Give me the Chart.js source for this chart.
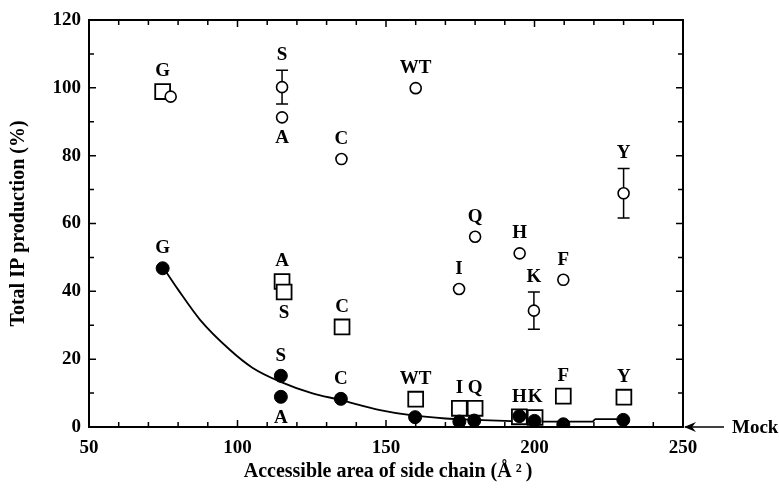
<!DOCTYPE html>
<html lang="en">
<head>
<meta charset="UTF-8">
<title>Total IP production vs accessible area of side chain</title>
<script src="https://cdn.jsdelivr.net/npm/chart.js"></script>
<style>
  html, body { margin: 0; padding: 0; background: #fff; }
  #wrap { width: 779px; height: 489px; }
</style>
</head>
<body>
<div id="wrap"><canvas id="ipChart" width="779" height="489"></canvas></div>
<script>
// open circles
const circleX = [77.5, 115, 115, 160, 135, 180, 195, 174.6, 199.8, 209.7, 230];
const circleY = [97.4, 100.2, 91.3, 99.9, 79, 56.1, 51.2, 40.7, 34.3, 43.4, 68.9];
const circleErr = [0, 5, 0, 0, 0, 0, 0, 0, 5.5, 0, 7.3];
const circleLabels = ['', 'S', 'A', 'WT', 'C', 'Q', 'H', 'I', 'K', 'F', 'Y'];
const circleSide = ['', 'up', 'down', 'up', 'up', 'up', 'up', 'up', 'up', 'up', 'up'];

// open squares
const squareX = [74.8, 115, 115.7, 135.2, 160, 174.7, 180, 194.9, 200.2, 209.7, 230.1];
const squareY = [98.9, 42.9, 39.8, 29.5, 8.2, 5.5, 5.5, 3, 2.8, 9.1, 8.8];
const squareLabels = ['G', 'A', 'S', 'C', 'WT', 'I', 'Q', 'H', 'K', 'F', 'Y'];
const squareSide = ['up', 'up', 'down', 'up', 'up', 'up', 'up', 'up', 'up', 'up', 'up'];

// filled circles
const dotX = [74.8, 114.6, 114.6, 134.8, 159.8, 174.7, 179.7, 194.9, 200, 209.7, 229.9];
const dotY = [46.8, 15.1, 8.9, 8.3, 2.9, 1.6, 1.9, 3.2, 1.8, 0.8, 2.1];
const dotLabels = ['G', 'S', 'A', 'C', '', '', '', '', '', '', ''];
const dotSide = ['up', 'up', 'down', 'up', '', '', '', '', '', '', ''];

// fitted curve through filled circles
const fitX = [75, 80, 87.4, 97.5, 105, 114.3, 125, 134.5, 148, 159, 170, 180, 190, 200, 219.5, 220.5, 230];
const fitY = [47, 40.5, 31.6, 22.7, 17.5, 13.4, 10, 8, 5, 3.4, 2.5, 2.1, 1.8, 1.6, 1.6, 2.3, 2.3];

const xTicks = [50, 100, 150, 200, 250];
const yTicks = [0, 20, 40, 60, 80, 100, 120];

const FONT = '"Liberation Serif", "Times New Roman", serif';

function pts(xs, ys) {
  return xs.map((x, i) => ({x: x, y: ys[i]}));
}

const frame = {
  id: 'frame',
  beforeDatasetsDraw(chart) {
    const ctx = chart.ctx, a = chart.chartArea;
    const xs = chart.scales.x, ys = chart.scales.y;
    ctx.save();
    ctx.strokeStyle = '#000';
    ctx.lineWidth = 2;
    ctx.strokeRect(a.left, a.top, a.right - a.left, a.bottom - a.top);
    ctx.lineWidth = 1.5;
    ctx.beginPath();
    for (let v = 60; v < 250; v += 10) {
      const px = xs.getPixelForValue(v);
      const len = v % 50 === 0 ? 7 : 5;
      ctx.moveTo(px, a.bottom); ctx.lineTo(px, a.bottom - len);
      ctx.moveTo(px, a.top); ctx.lineTo(px, a.top + len);
    }
    for (let v = 10; v < 120; v += 10) {
      const py = ys.getPixelForValue(v);
      const len = v % 20 === 0 ? 7 : 5;
      ctx.moveTo(a.left, py); ctx.lineTo(a.left + len, py);
      ctx.moveTo(a.right, py); ctx.lineTo(a.right - len, py);
    }
    ctx.stroke();

    // error bars on open circles
    ctx.lineWidth = 1.5;
    ctx.beginPath();
    circleX.forEach((x, i) => {
      if (!circleErr[i]) return;
      const px = xs.getPixelForValue(x);
      const top = ys.getPixelForValue(circleY[i] + circleErr[i]);
      const bot = ys.getPixelForValue(circleY[i] - circleErr[i]);
      ctx.moveTo(px, top); ctx.lineTo(px, bot);
      ctx.moveTo(px - 6, top); ctx.lineTo(px + 6, top);
      ctx.moveTo(px - 6, bot); ctx.lineTo(px + 6, bot);
    });
    ctx.stroke();
    ctx.restore();
  },
  afterDatasetsDraw(chart) {
    const ctx = chart.ctx, ys = chart.scales.y;
    ctx.save();
    ctx.fillStyle = '#000';
    ctx.font = 'bold 19px ' + FONT;
    ctx.textAlign = 'center';
    ctx.textBaseline = 'middle';
    const groups = [
      [0, dotLabels, dotSide, null],
      [1, circleLabels, circleSide, circleErr],
      [2, squareLabels, squareSide, null]
    ];
    groups.forEach(([idx, labels, side, err]) => {
      const meta = chart.getDatasetMeta(idx);
      meta.data.forEach((el, i) => {
        if (!labels[i]) return;
        let y;
        if (side[i] === 'up') {
          y = el.y - 20;
          if (err && err[i]) y = ys.getPixelForValue(circleY[i] + err[i]) - 15;
        } else {
          y = el.y + 21;
        }
        ctx.fillText(labels[i], el.x, y);
      });
    });
    ctx.restore();
  },
  afterDraw(chart) {
    const ctx = chart.ctx, a = chart.chartArea, ys = chart.scales.y;
    ctx.save();
    ctx.fillStyle = '#000';
    ctx.strokeStyle = '#000';
    // Mock arrow
    const y0 = ys.getPixelForValue(0);
    ctx.lineWidth = 1.5;
    ctx.beginPath();
    ctx.moveTo(a.right + 2, y0); ctx.lineTo(a.right + 41, y0);
    ctx.stroke();
    ctx.beginPath();
    ctx.moveTo(a.right + 1, y0);
    ctx.lineTo(a.right + 13, y0 - 5);
    ctx.lineTo(a.right + 9, y0);
    ctx.lineTo(a.right + 13, y0 + 5);
    ctx.closePath();
    ctx.fill();
    ctx.font = 'bold 19px ' + FONT;
    ctx.textAlign = 'left';
    ctx.textBaseline = 'middle';
    ctx.fillText('Mock', a.right + 49, y0 + 1);

    // axis titles
    ctx.font = 'bold 20px ' + FONT;
    ctx.textAlign = 'center';
    ctx.fillText('Accessible area of side chain (\u00C5\u2009\u00B2\u2009)', (a.left + a.right) / 2 + 2, 472);
    ctx.translate(19, (a.top + a.bottom) / 2);
    ctx.rotate(-Math.PI / 2);
    ctx.fillText('Total IP production (%)', 0, 0);
    ctx.restore();
  }
};

new Chart(document.getElementById('ipChart'), {
  type: 'scatter',
  data: {
    datasets: [
      {
        label: 'filled',
        data: pts(dotX, dotY),
        pointStyle: 'circle',
        pointRadius: 6.5,
        backgroundColor: '#000',
        borderColor: '#000',
        borderWidth: 1
      },
      {
        label: 'open circles',
        data: pts(circleX, circleY),
        pointStyle: 'circle',
        pointRadius: 5.5,
        backgroundColor: '#fff',
        borderColor: '#000',
        borderWidth: 1.6
      },
      {
        label: 'open squares',
        data: pts(squareX, squareY),
        pointStyle: 'rect',
        pointRadius: 10.5,
        backgroundColor: '#fff',
        borderColor: '#000',
        borderWidth: 1.8
      },
      {
        label: 'fit',
        data: pts(fitX, fitY),
        showLine: true,
        pointRadius: 0,
        borderColor: '#000',
        borderWidth: 1.8,
        cubicInterpolationMode: 'monotone'
      }
    ]
  },
  options: {
    responsive: false,
    animation: false,
    layout: {padding: {top: 20, right: 96, left: 0, bottom: 0}},
    plugins: {legend: {display: false}, tooltip: {enabled: false}},
    scales: {
      x: {
        min: 50, max: 250,
        afterFit(s) { s.height = 62; },
        afterBuildTicks(s) { s.ticks = xTicks.map(v => ({value: v})); },
        grid: {display: false, drawTicks: false},
        border: {display: false},
        ticks: {color: '#000', padding: 10, maxRotation: 0, font: {family: FONT, size: 19, weight: 'bold'}}
      },
      y: {
        min: 0, max: 120,
        afterFit(s) { s.width = 89; },
        afterBuildTicks(s) { s.ticks = yTicks.map(v => ({value: v})); },
        grid: {display: false, drawTicks: false},
        border: {display: false},
        ticks: {color: '#000', padding: 8, font: {family: FONT, size: 19, weight: 'bold'}}
      }
    }
  },
  plugins: [frame]
});
</script>
</body>
</html>
